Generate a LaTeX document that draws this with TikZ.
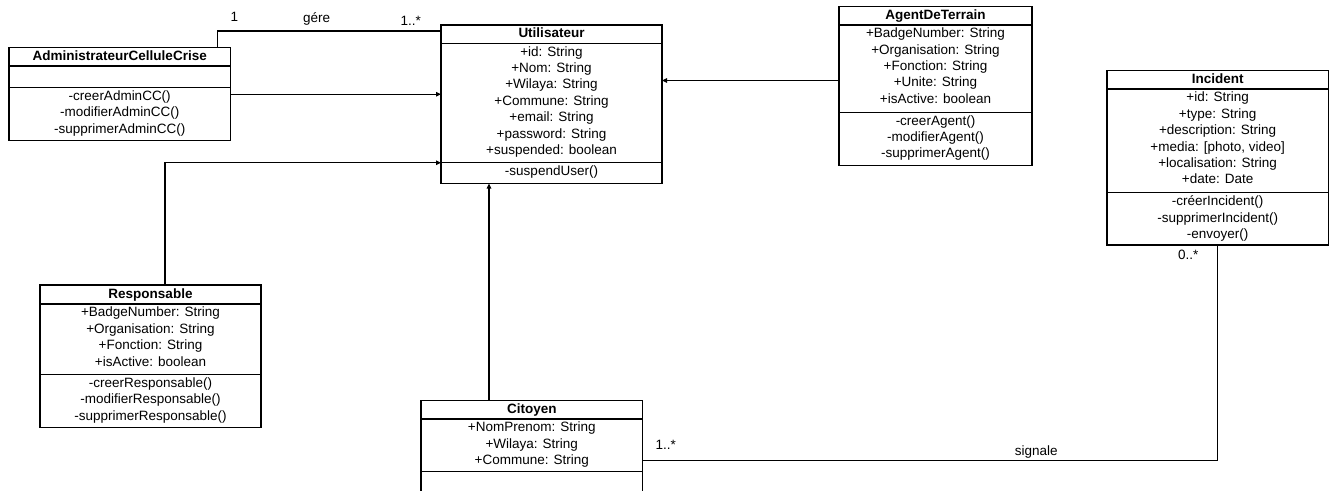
\documentclass[tikz,border=0pt]{standalone}
\usepackage{fontspec}
\setmainfont{Liberation Sans}
\usetikzlibrary{arrows.meta,calc}

\tikzset{
  umlbox/.style={draw=black, line width=1.1pt, fill=white, inner sep=0pt, outer sep=0pt},
  rowline/.style={draw=black, line width=1.1pt},
  member/.style={anchor=base, inner sep=0pt, font=\fontsize{13.5}{16}\selectfont},
  classtitle/.style={member, font=\fontsize{13.5}{16}\selectfont\bfseries},
  roletext/.style={inner sep=0pt, font=\fontsize{13.5}{16}\selectfont},
  assoc/.style={draw=black, line width=1.1pt},
  gen/.style={assoc, -{Triangle[length=5pt,width=4.5pt]}},
}

% class frame: name, left, top, right, bottom
\newcommand{\umlframe}[5]{%
  \node[umlbox, anchor=north west, minimum width={#4-#2}, minimum height={#5-#3}] (#1) at (#2,#3) {};}
% compartment separator: left, right, y
\newcommand{\umlrow}[3]{\draw[rowline] (#1,#3) -- (#2,#3);}

\begin{document}
\begin{tikzpicture}[x=1pt, y=-1pt]
\clip (0,0) rectangle (1329,490);
\fill[white] (0,0) rectangle (1329,490);

% ---------------- AdministrateurCelluleCrise
\umlframe{admin}{9}{47.7}{230.5}{140.7}
\umlrow{9}{230.5}{66}
\umlrow{9}{230.5}{87.7}
\node[classtitle] (admin-t) at (119.75,60.3) {AdministrateurCelluleCrise};
\foreach \txt [count=\k] in {-creerAdminCC(), -modifierAdminCC(), -supprimerAdminCC()}
  \node[member] (admin-m\k) at (119.75,{100.3+16.4*(\k-1)}) {\txt};

% ---------------- Utilisateur
\umlframe{util}{441}{25}{662}{183.5}
\umlrow{441}{662}{43.3}
\umlrow{441}{662}{162.7}
\node[classtitle] (util-t) at (551.5,37.3) {Utilisateur};
\foreach \txt [count=\k] in {+id: String, +Nom: String, +Wilaya: String, +Commune: String,
    +email: String, +password: String, +suspended: boolean}
  \node[member] (util-a\k) at (551.5,{56+16.4*(\k-1)}) {\txt};
\node[member] (util-m1) at (551.5,175.6) {-suspendUser()};

% ---------------- AgentDeTerrain
\umlframe{agent}{839}{6.7}{1032}{165.7}
\umlrow{839}{1032}{25}
\umlrow{839}{1032}{112.3}
\node[classtitle] (agent-t) at (935.5,19.3) {AgentDeTerrain};
\foreach \txt [count=\k] in {+BadgeNumber: String, +Organisation: String, +Fonction: String,
    +Unite: String, +isActive: boolean}
  \node[member] (agent-a\k) at (935.5,{37.6+16.4*(\k-1)}) {\txt};
\foreach \txt [count=\k] in {-creerAgent(), -modifierAgent(), -supprimerAgent()}
  \node[member] (agent-m\k) at (935.5,{125.1+16.4*(\k-1)}) {\txt};

% ---------------- Incident
\umlframe{inc}{1107}{70.7}{1328.3}{245}
\umlrow{1107}{1328.3}{89}
\umlrow{1107}{1328.3}{192.7}
\node[classtitle] (inc-t) at (1217.65,83.3) {Incident};
\foreach \txt [count=\k] in {+id: String, +type: String, +description: String,
    {+media: [photo, video]}, +localisation: String, +date: Date}
  \node[member] (inc-a\k) at (1217.65,{101.8+16.4*(\k-1)}) {\txt};
\foreach \txt [count=\k] in {-créerIncident(), -supprimerIncident(), -envoyer()}
  \node[member] (inc-m\k) at (1217.65,{205.6+16.4*(\k-1)}) {\txt};

% ---------------- Responsable
\umlframe{resp}{40}{285}{261}{427.7}
\umlrow{40}{261}{304}
\umlrow{40}{261}{374.3}
\node[classtitle] (resp-t) at (150.5,298.3) {Responsable};
\foreach \txt [count=\k] in {+BadgeNumber: String, +Organisation: String, +Fonction: String,
    +isActive: boolean}
  \node[member] (resp-a\k) at (150.5,{316.8+16.4*(\k-1)}) {\txt};
\foreach \txt [count=\k] in {-creerResponsable(), -modifierResponsable(), -supprimerResponsable()}
  \node[member] (resp-m\k) at (150.5,{387.3+16.4*(\k-1)}) {\txt};

% ---------------- Citoyen (runs past the lower edge)
\umlframe{cit}{421}{400.7}{642.5}{505}
\umlrow{421}{642.5}{419}
\umlrow{421}{642.5}{471.7}
\node[classtitle] (cit-t) at (531.75,413.3) {Citoyen};
\foreach \txt [count=\k] in {+NomPrenom: String, +Wilaya: String, +Commune: String}
  \node[member] (cit-a\k) at (531.75,{431.8+16.4*(\k-1)}) {\txt};

% ---------------- connection points
\coordinate (admin-gere) at ([xshift=208.7pt]admin.north west);
\coordinate (util-gere)  at ([yshift=-6pt]util.north west);
\coordinate (agent-port) at ([yshift=5.7pt]agent.west);
\coordinate (resp-port)  at ([xshift=14.5pt]resp.north);
\coordinate (util-resp)  at ([yshift=-137.7pt]util.north west);
\coordinate (cit-port)   at ([xshift=-42.75pt]cit.north);
\coordinate (cit-sig)    at ([yshift=-60pt]cit.north east);

% ---------------- connectors
\draw[assoc] (admin-gere) |- (util-gere);
\draw[gen] (admin.east) -- (admin.east -| util.west);
\draw[gen] (agent-port) -- (agent-port -| util.east);
\draw[gen] (resp-port) |- (util-resp);
\draw[gen] (cit-port) -- (cit-port |- util.south);
\draw[assoc] (inc.south) |- (cit-sig);

% ---------------- multiplicities and association names
\node[roletext, anchor=base west] (m-admin) at (230.5,21.3) {1};
\node[roletext, anchor=base]      (l-gere)  at (316.7,22.5) {gére};
\node[roletext, anchor=base west] (m-util)  at (400.5,25.5) {1..*};
\node[roletext, anchor=base west] (m-cit)   at (655.5,449.3) {1..*};
\node[roletext, anchor=base]      (l-sig)   at (1036.3,455) {signale};
\node[roletext, anchor=base west] (m-inc)   at (1178,259.3) {0..*};
\end{tikzpicture}
\end{document}
